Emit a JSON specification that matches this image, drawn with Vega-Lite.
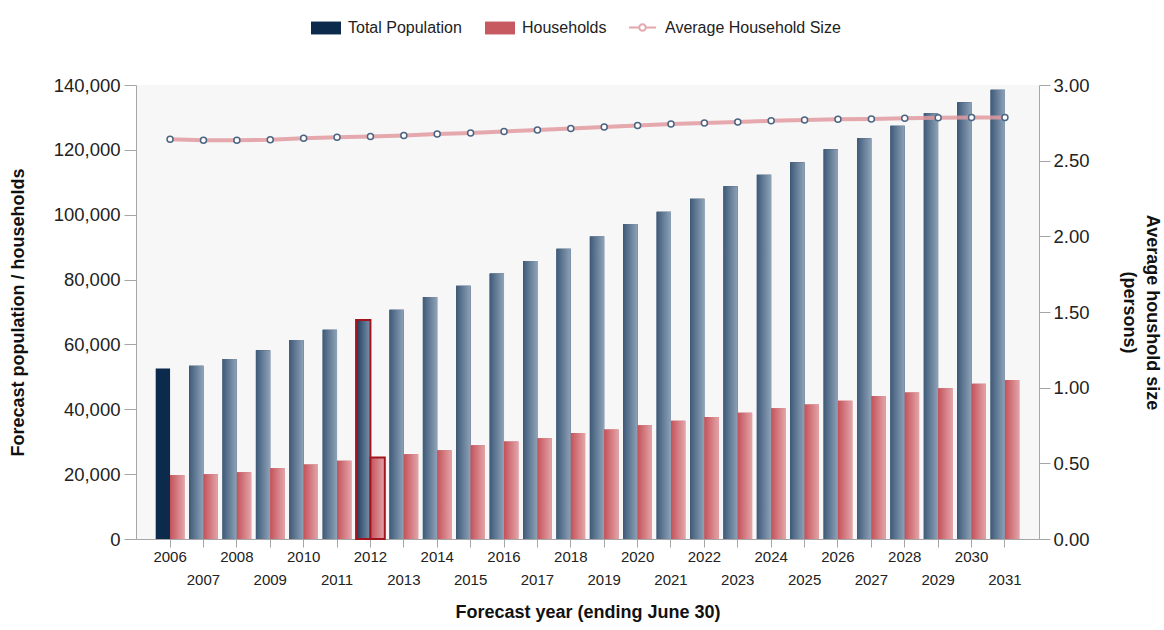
{
  "$schema": "https://vega.github.io/schema/vega-lite/v6.json",
  "width": 903,
  "height": 454,
  "autosize": "none",
  "padding": {"left": 136, "top": 85, "right": 125, "bottom": 91},
  "background": "white",
  "config": {
    "view": {"fill": "#f7f7f7", "stroke": null},
    "font": "Liberation Sans",
    "axis": {
      "domainColor": "#a6a6a6",
      "tickColor": "#a6a6a6",
      "labelColor": "#222222",
      "titleColor": "#111111",
      "grid": false,
      "labelFont": "Liberation Sans",
      "titleFont": "Liberation Sans",
      "titleFontWeight": "bold",
      "titleFontSize": 18
    },
    "legend": {"labelFont": "Liberation Sans", "labelFontSize": 16, "labelColor": "#222222", "labelLimit": 400}
  },
  "datasets": {
    "bars": [
      {"year": 2006, "series": "Total Population", "value": 52600},
      {"year": 2007, "series": "Total Population", "value": 53400},
      {"year": 2008, "series": "Total Population", "value": 55500},
      {"year": 2009, "series": "Total Population", "value": 58200},
      {"year": 2010, "series": "Total Population", "value": 61400},
      {"year": 2011, "series": "Total Population", "value": 64500},
      {"year": 2012, "series": "Total Population", "value": 67500},
      {"year": 2013, "series": "Total Population", "value": 70700},
      {"year": 2014, "series": "Total Population", "value": 74600},
      {"year": 2015, "series": "Total Population", "value": 78100},
      {"year": 2016, "series": "Total Population", "value": 81900},
      {"year": 2017, "series": "Total Population", "value": 85700},
      {"year": 2018, "series": "Total Population", "value": 89500},
      {"year": 2019, "series": "Total Population", "value": 93300},
      {"year": 2020, "series": "Total Population", "value": 97100},
      {"year": 2021, "series": "Total Population", "value": 100900},
      {"year": 2022, "series": "Total Population", "value": 104900},
      {"year": 2023, "series": "Total Population", "value": 108800},
      {"year": 2024, "series": "Total Population", "value": 112300},
      {"year": 2025, "series": "Total Population", "value": 116200},
      {"year": 2026, "series": "Total Population", "value": 120200},
      {"year": 2027, "series": "Total Population", "value": 123600},
      {"year": 2028, "series": "Total Population", "value": 127400},
      {"year": 2029, "series": "Total Population", "value": 131300},
      {"year": 2030, "series": "Total Population", "value": 134700},
      {"year": 2031, "series": "Total Population", "value": 138500},
      {"year": 2006, "series": "Households", "value": 19700},
      {"year": 2007, "series": "Households", "value": 20000},
      {"year": 2008, "series": "Households", "value": 20600},
      {"year": 2009, "series": "Households", "value": 21800},
      {"year": 2010, "series": "Households", "value": 23000},
      {"year": 2011, "series": "Households", "value": 24100},
      {"year": 2012, "series": "Households", "value": 25100},
      {"year": 2013, "series": "Households", "value": 26100},
      {"year": 2014, "series": "Households", "value": 27400},
      {"year": 2015, "series": "Households", "value": 28900},
      {"year": 2016, "series": "Households", "value": 30100},
      {"year": 2017, "series": "Households", "value": 31100},
      {"year": 2018, "series": "Households", "value": 32700},
      {"year": 2019, "series": "Households", "value": 33800},
      {"year": 2020, "series": "Households", "value": 35100},
      {"year": 2021, "series": "Households", "value": 36500},
      {"year": 2022, "series": "Households", "value": 37600},
      {"year": 2023, "series": "Households", "value": 38900},
      {"year": 2024, "series": "Households", "value": 40300},
      {"year": 2025, "series": "Households", "value": 41500},
      {"year": 2026, "series": "Households", "value": 42600},
      {"year": 2027, "series": "Households", "value": 44100},
      {"year": 2028, "series": "Households", "value": 45200},
      {"year": 2029, "series": "Households", "value": 46500},
      {"year": 2030, "series": "Households", "value": 47900},
      {"year": 2031, "series": "Households", "value": 49000}
    ],
    "avg": [
      {"year": 2006, "avg": 2.642},
      {"year": 2007, "avg": 2.635},
      {"year": 2008, "avg": 2.635},
      {"year": 2009, "avg": 2.639},
      {"year": 2010, "avg": 2.648},
      {"year": 2011, "avg": 2.655},
      {"year": 2012, "avg": 2.659},
      {"year": 2013, "avg": 2.666},
      {"year": 2014, "avg": 2.677},
      {"year": 2015, "avg": 2.683},
      {"year": 2016, "avg": 2.693},
      {"year": 2017, "avg": 2.703},
      {"year": 2018, "avg": 2.713},
      {"year": 2019, "avg": 2.723},
      {"year": 2020, "avg": 2.733},
      {"year": 2021, "avg": 2.743},
      {"year": 2022, "avg": 2.749},
      {"year": 2023, "avg": 2.756},
      {"year": 2024, "avg": 2.763},
      {"year": 2025, "avg": 2.769},
      {"year": 2026, "avg": 2.774},
      {"year": 2027, "avg": 2.776},
      {"year": 2028, "avg": 2.780},
      {"year": 2029, "avg": 2.783},
      {"year": 2030, "avg": 2.785},
      {"year": 2031, "avg": 2.785}
    ]
  },
  "encoding": {
    "x": {
      "field": "year",
      "type": "ordinal",
      "scale": {"paddingInner": 0.14, "paddingOuter": 0.59},
      "axis": {
        "title": "Forecast year (ending June 30)",
        "labelAngle": 0,
        "labelFontSize": 15,
        "labelExpr": "datum.value % 2 == 0 ? datum.label : ['', datum.label]",
        "labelLineHeight": 23,
        "labelOverlap": false,
        "labelPadding": 2,
        "tickSize": 8,
        "titlePadding": 16
      }
    }
  },
  "layer": [
    {
      "data": {"name": "bars"},
      "encoding": {
        "xOffset": {"field": "series", "type": "nominal", "scale": {"domain": ["Total Population", "Households"]}},
        "y": {
          "field": "value",
          "type": "quantitative",
          "scale": {"domain": [0, 140000], "nice": false},
          "axis": {
            "title": "Forecast population / households",
            "values": [0, 20000, 40000, 60000, 80000, 100000, 120000, 140000],
            "format": ",d",
            "labelFontSize": 18.5,
            "tickSize": 12,
            "labelPadding": 4,
            "titlePadding": 26
          }
        }
      },
      "layer": [
        {
          "mark": {"type": "bar"},
          "encoding": {
            "color": {
              "field": "series",
              "type": "nominal",
              "scale": {"domain": ["Total Population", "Households"], "range": ["#0c2a4c", "#c65a60"]},
              "legend": {
                "orient": "none",
                "legendX": 175,
                "legendY": -72,
                "direction": "horizontal",
                "title": null,
                "symbolType": "M-1,-0.43H1V0.43H-1Z",
                "symbolSize": 900,
                "symbolStrokeWidth": 0,
                "labelOffset": 7,
                "columnPadding": 23
              }
            }
          }
        },
        {
          "transform": [{"filter": "datum.series == 'Total Population' && datum.year != 2006 && datum.year != 2012"}],
          "mark": {
            "type": "bar",
            "fill": {"gradient": "linear", "x1": 0, "y1": 0, "x2": 1, "y2": 0, "stops": [{"offset": 0, "color": "#3e5a79"}, {"offset": 1, "color": "#8fa3b8"}]}
          }
        },
        {
          "transform": [{"filter": "datum.series == 'Total Population' && datum.year == 2012"}],
          "mark": {
            "type": "bar",
            "fill": {"gradient": "linear", "x1": 0, "y1": 0, "x2": 1, "y2": 0, "stops": [{"offset": 0, "color": "#1e3b5c"}, {"offset": 1, "color": "#7c93ab"}]},
            "stroke": "#a3151e",
            "strokeWidth": 2
          }
        },
        {
          "transform": [{"filter": "datum.series == 'Households'"}],
          "mark": {
            "type": "bar",
            "fill": {"gradient": "linear", "x1": 0, "y1": 0, "x2": 1, "y2": 0, "stops": [{"offset": 0, "color": "#c4525a"}, {"offset": 1, "color": "#e3a5a9"}]}
          }
        },
        {
          "transform": [{"filter": "datum.series == 'Households' && datum.year == 2012"}],
          "mark": {"type": "bar", "fill": null, "fillOpacity": 0, "stroke": "#a3151e", "strokeWidth": 2}
        }
      ]
    },
    {
      "data": {"name": "avg"},
      "encoding": {
        "y": {
          "field": "avg",
          "type": "quantitative",
          "scale": {"domain": [0, 3], "nice": false},
          "axis": {
            "orient": "right",
            "title": ["Average houshold size", "(persons)"],
            "values": [0, 0.5, 1, 1.5, 2, 2.5, 3],
            "format": ".2f",
            "labelFontSize": 18.5,
            "tickSize": 11,
            "labelPadding": 3,
            "titlePadding": 30,
            "titleLineHeight": 23
          }
        }
      },
      "layer": [
        {
          "mark": {"type": "line", "strokeWidth": 4, "opacity": 0.85},
          "encoding": {
            "stroke": {
              "datum": "Average Household Size",
              "type": "nominal",
              "scale": {"domain": ["Average Household Size"], "range": ["#e09aa0"]},
              "legend": {
                "orient": "none",
                "legendX": 492,
                "legendY": -72,
                "title": null,
                "symbolType": "M-1,0H-0.24M0.24,0A0.24,0.24,0,1,1,-0.24,0A0.24,0.24,0,1,1,0.24,0M0.24,0H1",
                "symbolSize": 729,
                "symbolStrokeWidth": 2,
                "symbolFillColor": "white",
                "labelOffset": 8
              }
            }
          }
        },
        {
          "mark": {"type": "point", "filled": true, "fill": "white", "stroke": "#4a6482", "strokeWidth": 1.5, "size": 36, "opacity": 1}
        }
      ]
    }
  ],
  "resolve": {"scale": {"y": "independent", "color": "independent", "stroke": "independent"}}
}
